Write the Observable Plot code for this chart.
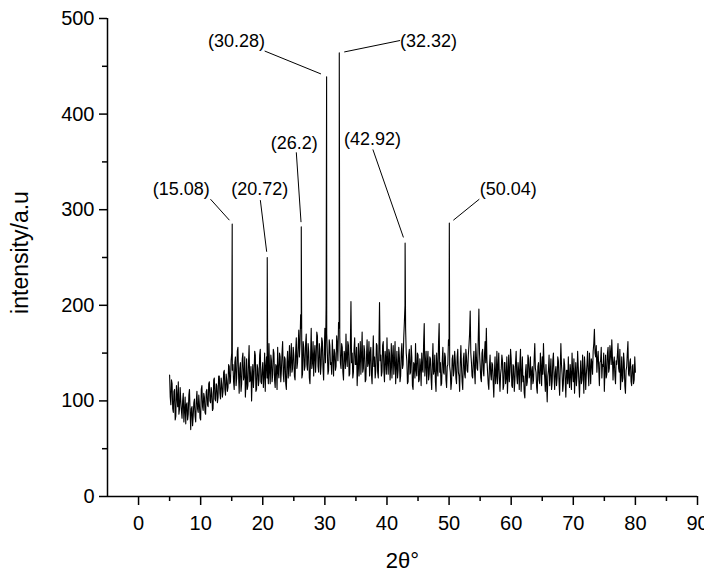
<!DOCTYPE html>
<html><head><meta charset="utf-8">
<script src="https://cdn.jsdelivr.net/npm/d3@7"></script>
<script src="https://cdn.jsdelivr.net/npm/@observablehq/plot@0.6"></script>
<style>body{margin:0;background:#fff} #chart svg{font-family:"Liberation Sans",Arial,sans-serif}</style>
</head><body><div id="chart"></div>
<script>
// measurement grid: 2θ from 5.0 in 0.1° steps (one row = 2°)
const startAngle = 5.0;
const angleStep = 0.1;
const intensity = [
  127, 104, 96, 122, 118, 92, 88, 110, 112, 80, 84, 116, 104, 94, 120, 86, 92, 114, 100, 90,
  82, 100, 108, 78, 90, 104, 76, 96, 98, 80, 86, 106, 112, 88, 70, 92, 94, 74, 84, 98,
  102, 84, 78, 100, 110, 92, 88, 106, 96, 82, 80, 112, 116, 94, 90, 108, 104, 88, 86, 110,
  112, 96, 94, 118, 120, 100, 98, 114, 108, 90, 92, 122, 124, 102, 100, 118, 116, 98, 104, 126,
  126, 108, 102, 124, 118, 104, 110, 130, 132, 112, 106, 128, 122, 110, 114, 138, 136, 118, 120, 142,
  150, 132, 138, 120, 112, 140, 146, 116, 124, 152, 156, 128, 108, 134, 140, 110, 118, 144, 150, 122,
  126, 146, 104, 118, 144, 112, 116, 140, 158, 120, 122, 136, 100, 124, 138, 114, 128, 152, 148, 110,
  112, 138, 134, 116, 122, 148, 154, 120, 118, 132, 140, 114, 126, 150, 110, 136, 146, 124, 132, 118,
  160, 130, 118, 148, 142, 120, 128, 154, 150, 122, 114, 138, 136, 112, 156, 130, 124, 150, 146, 120,
  132, 150, 162, 128, 120, 146, 144, 118, 112, 140, 152, 124, 138, 158, 126, 142, 160, 130, 134, 156,
  148, 126, 122, 152, 166, 134, 140, 158, 174, 146, 160, 190, 176, 124, 128, 162, 156, 132, 136, 160,
  170, 138, 132, 160, 152, 124, 118, 146, 176, 134, 140, 162, 126, 148, 158, 130, 144, 172, 168, 136,
  130, 160, 154, 128, 138, 166, 162, 134, 122, 150, 176, 140, 200, 170, 150, 128, 132, 164, 158, 138,
  140, 128, 164, 146, 126, 154, 150, 132, 136, 168, 160, 142, 182, 176, 168, 140, 134, 160, 156, 130,
  122, 152, 148, 134, 170, 144, 136, 162, 158, 126, 128, 156, 204, 140, 150, 124, 130, 154, 166, 138,
  138, 156, 116, 134, 160, 126, 144, 162, 128, 148, 172, 130, 134, 158, 152, 120, 122, 146, 164, 136,
  140, 162, 126, 150, 156, 128, 118, 144, 168, 136, 146, 124, 132, 160, 158, 130, 124, 154, 203, 142,
  148, 126, 130, 158, 162, 132, 120, 152, 144, 128, 166, 140, 128, 154, 150, 122, 136, 160, 124, 146,
  158, 128, 140, 162, 118, 136, 152, 124, 132, 156, 146, 120, 126, 150, 160, 134, 138, 166, 182, 200,
  176, 150, 142, 118, 120, 148, 154, 128, 130, 158, 146, 116, 112, 140, 138, 124, 160, 132, 126, 150,
  148, 120, 122, 144, 136, 116, 150, 134, 130, 160, 181, 126, 138, 152, 118, 140, 152, 122, 128, 146,
  144, 124, 112, 138, 160, 128, 132, 148, 120, 110, 150, 134, 126, 160, 181, 130, 140, 116, 118, 142,
  156, 130, 128, 150, 146, 122, 114, 136, 138, 164, 158, 136, 130, 112, 120, 144, 148, 126, 132, 152,
  142, 124, 118, 146, 154, 130, 126, 110, 140, 158, 136, 120, 112, 144, 150, 128, 124, 154, 146, 132,
  130, 148, 158, 170, 194, 150, 140, 126, 124, 142, 152, 130, 118, 160, 146, 134, 132, 166, 196, 150,
  138, 124, 120, 150, 154, 132, 126, 148, 162, 140, 176, 142, 130, 118, 112, 136, 148, 128, 122, 140,
  138, 120, 104, 130, 146, 118, 126, 152, 118, 136, 150, 124, 110, 128, 134, 148, 142, 112, 116, 140,
  140, 118, 124, 146, 108, 128, 148, 120, 130, 154, 144, 116, 114, 138, 136, 110, 122, 140, 152, 126,
  118, 140, 132, 112, 140, 154, 110, 128, 146, 120, 126, 108, 103, 130, 138, 116, 120, 148, 144, 124,
  128, 146, 112, 130, 136, 118, 122, 144, 160, 134, 130, 114, 108, 136, 140, 122, 118, 150, 136, 116,
  146, 128, 160, 136, 124, 110, 138, 118, 99, 126, 132, 148, 116, 130, 144, 112, 120, 142, 150, 126,
  112, 130, 136, 116, 124, 146, 142, 120, 106, 134, 160, 138, 128, 110, 118, 144, 138, 122, 104, 132,
  132, 118, 146, 124, 114, 138, 128, 112, 150, 130, 120, 144, 108, 126, 140, 116, 126, 152, 136, 120,
  104, 126, 142, 118, 122, 148, 130, 108, 146, 134, 112, 128, 138, 152, 128, 116, 150, 136, 118, 144,
  140, 128, 152, 160, 175, 150, 146, 158, 130, 144, 152, 134, 116, 140, 142, 156, 124, 138, 136, 150,
  110, 132, 148, 124, 128, 150, 156, 130, 134, 158, 150, 138, 164, 146, 122, 140, 146, 126, 118, 142,
  138, 148, 160, 134, 130, 154, 112, 128, 146, 120, 124, 150, 140, 116, 108, 132, 136, 150, 162, 128,
  126, 140, 144, 120, 116, 136, 138, 118, 122, 146, 130
];

// labelled diffraction peaks
const peakAngle = [15.08, 20.72, 26.2, 30.28, 32.32, 42.92, 50.04];
const peakIntensity = [285, 250, 282, 439, 464, 265, 286];
const peakLabel = ["(15.08)", "(20.72)", "(26.2)", "(30.28)", "(32.32)", "(42.92)", "(50.04)"];

// annotation placement (data units)
const labelAngle = [6.86, 19.5, 25.08, 15.76, 46.67, 37.67, 59.53];
const labelIntensity = [321, 321, 370, 476, 476, 374, 321];
const leaderStartAngle = [11.58, 19.61, 25.4, 20.3, 42.12, 37.73, 54.87];
const leaderStartIntensity = [311, 310, 360, 466, 477, 363, 311];
const leaderEndAngle = [14.63, 20.63, 26.16, 29.37, 33.12, 42.65, 50.69];
const leaderEndIntensity = [289, 256, 287, 442, 465, 271, 289];

const xTicks = [0, 10, 20, 30, 40, 50, 60, 70, 80, 90];
const xMinorTicks = [5, 15, 25, 35, 45, 55, 65, 75, 85];
const yTicks = [0, 100, 200, 300, 400, 500];
const yMinorTicks = [50, 150, 250, 350, 450];

const series = intensity.map((v, i) => ({angle: +(startAngle + angleStep * i).toFixed(2), value: v}))
  .concat(peakAngle.map((a, i) => ({angle: a, value: peakIntensity[i]})));
series.sort((a, b) => a.angle - b.angle);

const notes = peakLabel.map((t, i) => ({
  text: t, lx: labelAngle[i], ly: labelIntensity[i],
  x1: leaderStartAngle[i], y1: leaderStartIntensity[i],
  x2: leaderEndAngle[i], y2: leaderEndIntensity[i]
}));

const chart = Plot.plot({
  width: 704, height: 573,
  marginLeft: 107, marginRight: 7, marginTop: 18, marginBottom: 77,
  style: {fontFamily: '"Liberation Sans", Arial, sans-serif', fontSize: "20px", color: "black", background: "white"},
  x: {domain: [-5, 90]},
  y: {domain: [0, 500]},
  marks: [
    Plot.line(series, {x: "angle", y: "value", stroke: "black", strokeWidth: 1.1}),
    Plot.link(notes, {x1: "x1", y1: "y1", x2: "x2", y2: "y2", stroke: "black", strokeWidth: 1}),
    Plot.text(notes, {x: "lx", y: "ly", text: "text", fontSize: 18, fill: "black", textAnchor: "middle", lineAnchor: "middle"}),
    Plot.ruleY([0], {x1: -5, x2: 90, stroke: "black", strokeWidth: 1.5}),
    Plot.ruleX([-5], {y1: 0, y2: 500, stroke: "black", strokeWidth: 1.5}),
    Plot.axisX(xTicks, {tickSize: 9, tickPadding: 10, fontSize: 20, label: null, stroke: "black", strokeWidth: 1.5, fill: "black"}),
    Plot.axisX(xMinorTicks, {tickSize: 5, tickFormat: () => "", label: null, stroke: "black", strokeWidth: 1.5}),
    Plot.axisY(yTicks, {tickSize: 8, tickPadding: 5, fontSize: 20, label: null, stroke: "black", strokeWidth: 1.5, fill: "black"}),
    Plot.axisY(yMinorTicks, {tickSize: 5, tickFormat: () => "", label: null, stroke: "black", strokeWidth: 1.5}),
    Plot.text(["2θ°"], {frameAnchor: "bottom", dy: 64, fontSize: 22, fill: "black", lineAnchor: "middle"}),
    Plot.text(["intensity/a.u"], {frameAnchor: "left", dx: -87, dy: -5, rotate: -90, fontSize: 23, fill: "black", textAnchor: "middle", lineAnchor: "middle"})
  ]
});
document.getElementById("chart").appendChild(chart);
</script>
</body></html>
